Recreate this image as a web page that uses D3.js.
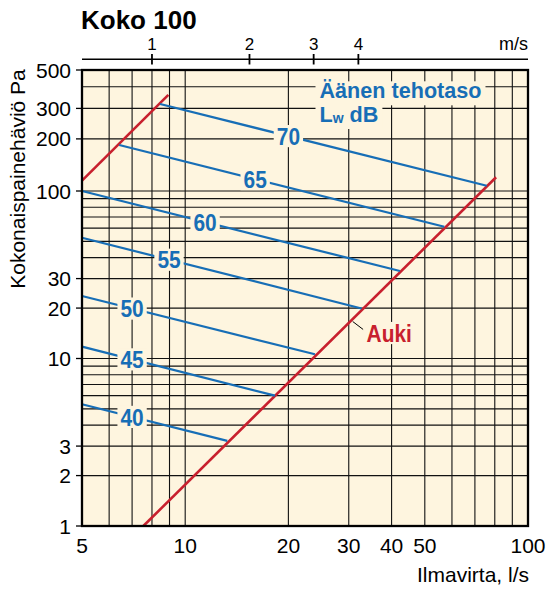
<!DOCTYPE html>
<html>
<head>
<meta charset="utf-8">
<script src="https://cdn.jsdelivr.net/npm/d3@7"></script>
<style>
  html, body { margin: 0; padding: 0; background: #ffffff; }
  svg { display: block; }
</style>
</head>
<body>
<svg id="chart" width="550" height="590"></svg>
<script>
// ---------------- DATA ----------------
const flowTicks = [5, 10, 20, 30, 40, 50, 100];               // l/s labels (bottom)
const pressureTicks = [1, 2, 3, 10, 20, 30, 100, 200, 300, 500]; // Pa labels (left)
const gridFlow = [6, 7, 8, 9, 10, 20, 30, 40, 50, 60, 70, 80, 90];
const gridPressure = [2, 3, 4, 5, 6, 7, 8, 9, 10, 20, 30, 40, 50, 60, 70, 80, 90, 100, 200, 300, 400];
const speedTicks = [1, 2, 3, 4];               // m/s labels (top)
const speedFlow = [8.0, 15.4, 23.7, 32.0];     // l/s equivalent of each m/s tick

// "Auki" (open) pressure curve
const aukiFlow = [7.55, 80.7];
const aukiPressure = [1, 120];
// upper-left red limit curve
const limitFlow = [5, 8.93];
const limitPressure = [114.7, 359];

// sound power level lines Lw dB
const levels = [40, 45, 50, 55, 60, 65, 70];
const levelStartFlow = [5, 5, 5, 5, 5, 6.42, 8.45];
const levelStartPressure = [5.33, 11.77, 23.6, 52.6, 100, 184.5, 318];
const levelEndFlow = [13.27, 18.28, 23.9, 32.7, 42.3, 57.0, 75.8];
const levelEndPressure = [3.22, 6.0, 10.6, 19.9, 33.3, 61.2, 107.3];
const levelLabelFlow = [7.0, 7.0, 7.0, 8.97, 11.43, 16.0, 20.0];
const aukiLabelFlow = 30.5;

// ---------------- CHART ----------------
const svg = d3.select("#chart")
  .attr("font-family", "'Liberation Sans', Arial, Helvetica, sans-serif");

const x = d3.scaleLog().domain([5, 100]).range([82, 528]);
const y = d3.scaleLog().domain([1, 100, 500]).range([526, 191, 70]);

const BG = "#fef5df";
const BLUE = "#176eb6";
const RED = "#c8202e";

// title
svg.append("text").attr("x", 81).attr("y", 29)
  .attr("font-size", 26).attr("font-weight", "bold").attr("fill", "#000")
  .text("Koko 100");

// plot background
svg.append("rect")
  .attr("x", x(5)).attr("y", y(500))
  .attr("width", x(100) - x(5)).attr("height", y(1) - y(500))
  .attr("fill", BG);

// grid
const grid = svg.append("g").attr("stroke", "#111").attr("stroke-width", 1.1);
grid.selectAll("line.v").data(gridFlow).join("line")
  .attr("x1", d => x(d)).attr("x2", d => x(d))
  .attr("y1", y(1)).attr("y2", y(500));
grid.selectAll("line.h").data(gridPressure).join("line")
  .attr("x1", x(5)).attr("x2", x(100))
  .attr("y1", d => y(d)).attr("y2", d => y(d));

// y ticks (outside)
svg.append("g").attr("stroke", "#000").attr("stroke-width", 1.3)
  .selectAll("line").data(pressureTicks).join("line")
  .attr("x1", x(5) - 6).attr("x2", x(5))
  .attr("y1", d => y(d)).attr("y2", d => y(d));

// y tick labels
svg.append("g").attr("font-size", 21).attr("text-anchor", "end").attr("fill", "#000")
  .selectAll("text").data(pressureTicks).join("text")
  .attr("x", x(5) - 11).attr("y", d => y(d)).attr("dy", "0.36em")
  .text(d => d);

// x tick labels
svg.append("g").attr("font-size", 21).attr("text-anchor", "middle").attr("fill", "#000")
  .selectAll("text").data(flowTicks).join("text")
  .attr("x", d => x(d)).attr("y", 552.5)
  .text(d => d);

// top m/s axis
svg.append("line").attr("x1", x(5)).attr("x2", x(100))
  .attr("y1", 59.3).attr("y2", 59.3).attr("stroke", "#000").attr("stroke-width", 1.6);
svg.append("g").attr("stroke", "#000").attr("stroke-width", 1.8)
  .selectAll("line").data(speedFlow).join("line")
  .attr("x1", d => x(d)).attr("x2", d => x(d))
  .attr("y1", 54).attr("y2", 64.5);
svg.append("g").attr("font-size", 17).attr("text-anchor", "middle").attr("fill", "#000")
  .selectAll("text").data(speedTicks).join("text")
  .attr("x", (d, i) => x(speedFlow[i])).attr("y", 49.5)
  .text(d => d);
svg.append("text").attr("x", x(100)).attr("y", 49.5)
  .attr("font-size", 18).attr("text-anchor", "end").text("m/s");

// axis titles
svg.append("text").attr("x", 529).attr("y", 581.5)
  .attr("font-size", 21).attr("text-anchor", "end").text("Ilmavirta, l/s");
svg.append("text")
  .attr("transform", "translate(25,179) rotate(-90)")
  .attr("font-size", 21).attr("text-anchor", "middle").text("Kokonaispainehäviö Pa");

// curves
const line = d3.line().x(d => x(d[0])).y(d => y(d[1]));
svg.append("path")
  .datum(aukiFlow.map((f, i) => [f, aukiPressure[i]]))
  .attr("d", line).attr("fill", "none").attr("stroke", RED).attr("stroke-width", 2.6);
svg.append("path")
  .datum(limitFlow.map((f, i) => [f, limitPressure[i]]))
  .attr("d", line).attr("fill", "none").attr("stroke", RED).attr("stroke-width", 2.6);

const levelData = levels.map((lv, i) => ({
  level: lv,
  pts: [[levelStartFlow[i], levelStartPressure[i]], [levelEndFlow[i], levelEndPressure[i]]],
  labelFlow: levelLabelFlow[i]
}));

svg.append("g").selectAll("path").data(levelData).join("path")
  .attr("d", d => line(d.pts)).attr("fill", "none")
  .attr("stroke", BLUE).attr("stroke-width", 2.2);

// point on a straight (log-log) segment at a given flow
function pointAt(pts, f) {
  const x0 = x(pts[0][0]), y0 = y(pts[0][1]), x1 = x(pts[1][0]), y1 = y(pts[1][1]);
  const px = x(f);
  const t = (px - x0) / (x1 - x0);
  return [px, y0 + t * (y1 - y0)];
}

// condensed bold label with background patch
function condensedLabel(cx, cy, txt, color) {
  const fs = 24;
  const g = svg.append("g").attr("transform", `translate(${cx},${cy}) scale(0.87,1)`);
  const r = g.append("rect").attr("fill", BG);
  const t = g.append("text").attr("font-size", fs).attr("font-weight", "bold")
    .attr("text-anchor", "middle").attr("dy", "0.36em").attr("fill", color).text(txt);
  const bb = t.node().getBBox();
  const h = 0.716 * fs + 5;
  r.attr("x", bb.x - 3.5).attr("width", bb.width + 7)
   .attr("y", -h / 2).attr("height", h);
}

levelData.forEach(d => {
  const p = pointAt(d.pts, d.labelFlow);
  condensedLabel(p[0], p[1], d.level, BLUE);
});

// Auki label with leader
const aukiPts = [[aukiFlow[0], aukiPressure[0]], [aukiFlow[1], aukiPressure[1]]];
const ap = pointAt(aukiPts, aukiLabelFlow);
svg.append("line").attr("x1", ap[0] + 1.5).attr("y1", ap[1] + 1)
  .attr("x2", ap[0] + 12).attr("y2", ap[1] + 9)
  .attr("stroke", "#000").attr("stroke-width", 1);
condensedLabel(ap[0] + 38, ap[1] + 12.5, "Auki", RED);

// "Äänen tehotaso Lw dB" legend title
const lg = svg.append("g").attr("fill", BLUE).attr("font-size", 21.6).attr("font-weight", "bold");
const r1 = lg.append("rect").attr("fill", BG);
const r2 = lg.append("rect").attr("fill", BG);
const t1 = lg.append("text").attr("x", 319.5).attr("y", 98.3).text("Äänen tehotaso");
const t2 = lg.append("text").attr("x", 319.5).attr("y", 121.5);
t2.append("tspan").text("L");
t2.append("tspan").attr("font-size", 14).attr("dy", 1).text("w");
t2.append("tspan").attr("dy", -1).text(" dB");
const b1 = t1.node().getBBox(), b2 = t2.node().getBBox();
r1.attr("x", b1.x - 4).attr("width", b1.width + 8).attr("y", 98.3 - 17).attr("height", 24);
r2.attr("x", b2.x - 4).attr("width", b2.width + 8).attr("y", 121.5 - 16.5).attr("height", 24);

// frame
svg.append("rect")
  .attr("x", x(5)).attr("y", y(500))
  .attr("width", x(100) - x(5)).attr("height", y(1) - y(500))
  .attr("fill", "none").attr("stroke", "#000").attr("stroke-width", 2.3);
</script>
</body>
</html>
